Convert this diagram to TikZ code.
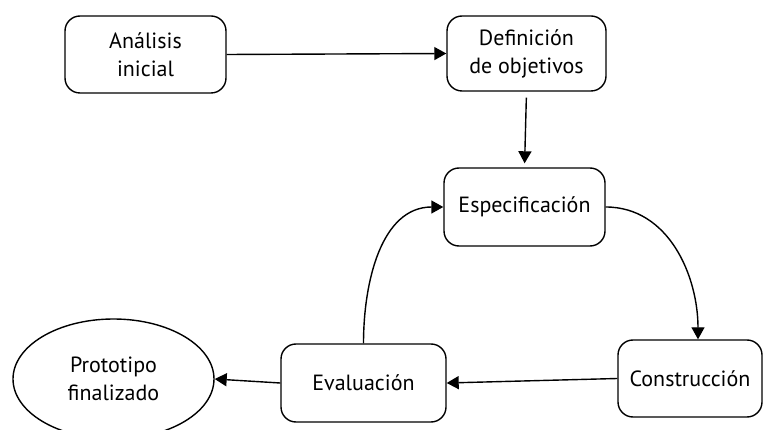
\documentclass[tikz,border=0pt]{standalone}
\usepackage{fontspec}
\setmainfont{PT Sans}
\usetikzlibrary{arrows.meta,shapes.geometric}
\begin{document}
\begin{tikzpicture}[x=1pt,y=-1pt,
 box/.style={draw, line width=1.4pt, rounded corners=15pt, align=center, font=\fontsize{22}{28}\selectfont, inner sep=0pt},
 conn/.style={line width=1.4pt, -{Triangle[length=12pt,width=13pt]}}]
\useasboundingbox (0,0) rectangle (763,430);
\node[box, minimum width=161pt, minimum height=77pt] (ana) at (145.5,54.5) {Análisis\\inicial};
\node[box, minimum width=159pt, minimum height=75pt] (def) at (526.5,53.5) {Definición\\de objetivos};
\node[box, minimum width=161pt, minimum height=78pt] (esp) at (524.5,207) {Especificación};
\node[box, minimum width=165pt, minimum height=78pt] (eva) at (363.5,383) {Evaluación};
\node[box, minimum width=144pt, minimum height=77pt] (con) at (690,378.5) {Construcción};
\node[draw, ellipse, line width=1.4pt, align=center, inner sep=0pt, font=\fontsize{22}{28}\selectfont, minimum width=201pt, minimum height=120pt] (pro) at (113.5,379) {Prototipo\\finalizado};
\draw[conn] (ana.east) -- (def.west);
\draw[conn, shorten <=6pt, shorten >=4pt] (def.south) -- (esp.north);
\draw[conn] (esp.east) to[out=0,in=90] ([xshift=8pt]con.north);
\draw[conn] (eva.north) to[out=90,in=180] (esp.west);
\draw[conn] (con.west) -- (eva.east);
\draw[conn] (eva.west) -- (pro.east);
\end{tikzpicture}
\end{document}
